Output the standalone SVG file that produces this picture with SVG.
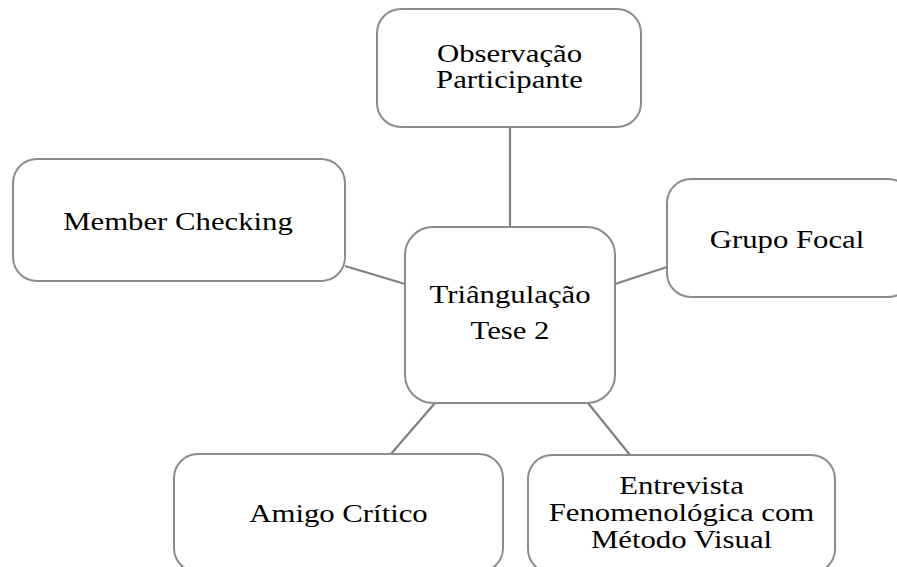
<svg xmlns="http://www.w3.org/2000/svg" width="897" height="567" viewBox="0 0 897 567">
<style>
.box{fill:#ffffff;stroke:#8c8c8c;stroke-width:2}
.edge{stroke:#808080;stroke-width:2.2;fill:none}
.t{font-family:"Liberation Serif","Times New Roman",serif;font-size:25px;fill:#000;text-anchor:middle}
</style>
<rect width="897" height="567" fill="#ffffff"/>
<g id="connectors">
<line class="edge" x1="510" y1="127" x2="510" y2="227"/>
<line class="edge" x1="345" y1="266" x2="405" y2="284"/>
<line class="edge" x1="615" y1="284" x2="667" y2="267"/>
<line class="edge" x1="435" y1="403" x2="390" y2="455"/>
<line class="edge" x1="588" y1="403" x2="630" y2="455"/>
</g>
<g id="node-observacao">
<rect class="box" x="377" y="9" width="264" height="118" rx="24"/>
<text class="t" transform="translate(509.5,62) scale(1.23,1)">Observação</text>
<text class="t" transform="translate(509.5,88) scale(1.23,1)">Participante</text>
</g>
<g id="node-member">
<rect class="box" x="13" y="159" width="332" height="122" rx="24"/>
<text class="t" transform="translate(178,230) scale(1.23,1)">Member Checking</text>
</g>
<g id="node-grupo">
<rect class="box" x="667" y="179" width="245" height="118" rx="24"/>
<text class="t" transform="translate(787,248) scale(1.23,1)">Grupo Focal</text>
</g>
<g id="node-triangulacao">
<rect class="box" x="405" y="227" width="210" height="176" rx="28"/>
<text class="t" transform="translate(510,303) scale(1.23,1)">Triângulação</text>
<text class="t" transform="translate(510,339) scale(1.23,1)">Tese 2</text>
</g>
<g id="node-amigo">
<rect class="box" x="174" y="454" width="329" height="118" rx="24"/>
<text class="t" transform="translate(338.5,522) scale(1.23,1)">Amigo Crítico</text>
</g>
<g id="node-entrevista">
<rect class="box" x="528" y="455" width="307" height="118" rx="24"/>
<text class="t" transform="translate(681.5,494) scale(1.23,1)">Entrevista</text>
<text class="t" transform="translate(681.5,521) scale(1.23,1)">Fenomenológica com</text>
<text class="t" transform="translate(681.5,548) scale(1.23,1)">Método Visual</text>
</g>
</svg>
